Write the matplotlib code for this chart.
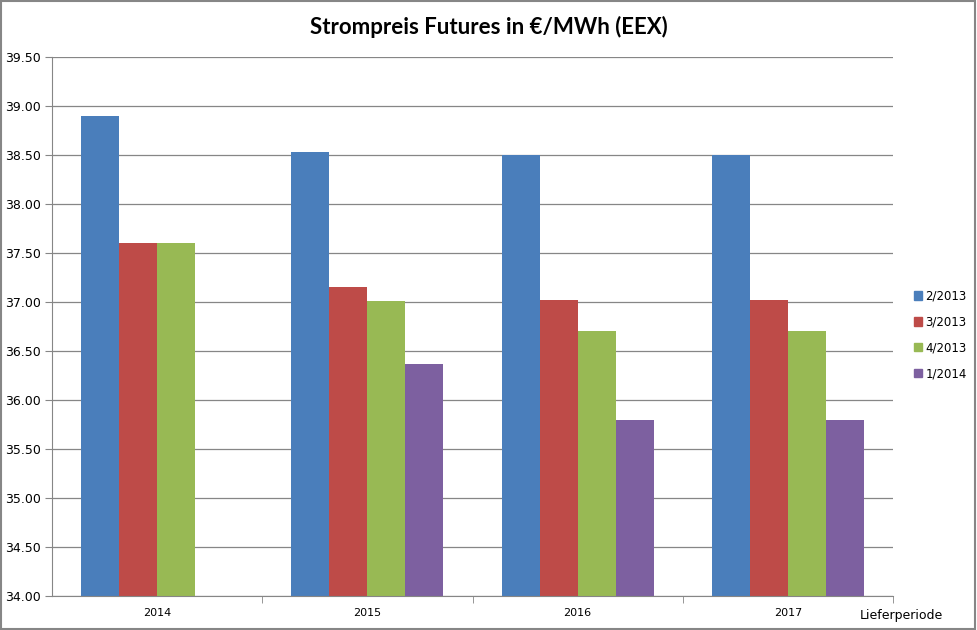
import numpy as np
import matplotlib.pyplot as plt
from matplotlib.patches import Patch

years = ['2014', '2015', '2016', '2017']
series = ['2/2013', '3/2013', '4/2013', '1/2014']
values = [
    [38.90, 38.53, 38.50, 38.50],
    [37.60, 37.15, 37.02, 37.02],
    [37.60, 37.01, 36.70, 36.70],
    [np.nan, 36.37, 35.80, 35.80],
]
colors = ['#4a7ebb', '#be4b48', '#98b954', '#7d60a0']

fig = plt.figure(figsize=(9.77, 6.3), dpi=100)
ax = fig.add_axes([52 / 977, 34 / 630, 841 / 977, 539 / 630])

x = np.arange(len(years))
w = 0.181
for i, (name, vals) in enumerate(zip(series, values)):
    ax.bar(x + (i - 1.5) * w, vals, w, color=colors[i], label=name, zorder=2)

ticks = np.arange(34, 39.51, 0.5)
ax.set_ylim(34, 39.5)
ax.set_yticks(ticks)
ax.set_yticklabels([f'{v:.2f}' for v in ticks], fontsize=9)
ax.set_xlim(-0.5, len(years) - 0.5)
ax.set_xticks(x)
ax.set_xticklabels(years, fontsize=8)
ax.set_xticks(np.arange(0.5, len(years), 1), minor=True)
ax.tick_params(axis='x', which='major', length=0, pad=9)
ax.tick_params(axis='x', which='minor', length=5, color='#868686', direction='out')
ax.tick_params(axis='y', length=5, color='#868686', direction='out', pad=3)

ax.grid(axis='y', color='#868686', linewidth=0.9, zorder=1)
for s in ['top', 'right']:
    ax.spines[s].set_visible(False)
for s in ['left', 'bottom']:
    ax.spines[s].set_color('#868686')

fig.text(860 / 977, 1 - 616 / 630, 'Lieferperiode', fontsize=9, va='center')

fig.text(0.5, 1 - 27 / 630, 'Strompreis Futures in €/MWh (EEX)',
         fontsize=16, fontweight='bold', ha='center', va='center', family='Lato')

handles = [Patch(color=c) for c in colors]
fig.legend(handles, series, loc='center left', bbox_to_anchor=(903 / 977, 1 - 335 / 630),
           frameon=False, fontsize=8.5, handlelength=0.7, handleheight=0.7,
           handletextpad=0.3, labelspacing=1.1)

fig.patches.append(plt.Rectangle((0.001, 0.001), 0.997, 0.997, transform=fig.transFigure,
                                 fill=False, edgecolor='#868686', linewidth=1.5))

fig.savefig('out.png', dpi=100)
